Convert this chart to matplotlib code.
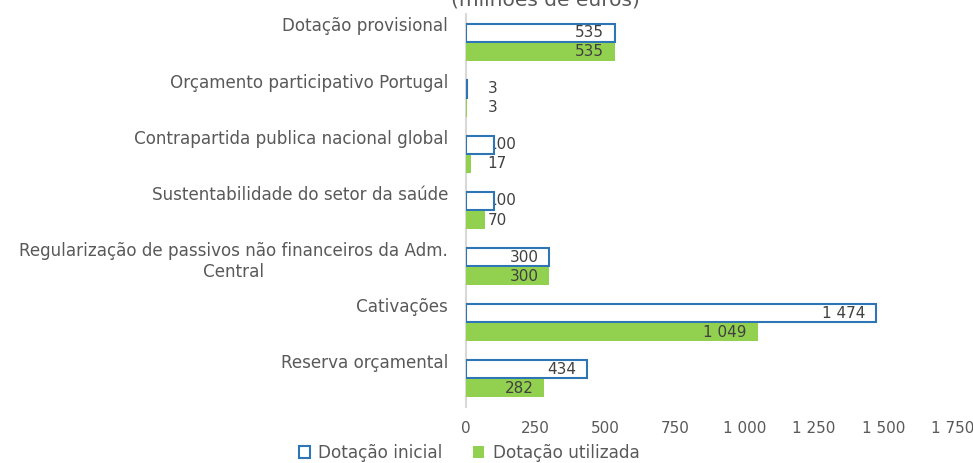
import matplotlib
matplotlib.use("Agg")
import matplotlib.pyplot as plt
import numpy as np
from matplotlib.patches import Patch

categories = ["Dotação provisional", "Orçamento participativo Portugal",
              "Contrapartida publica nacional global", "Sustentabilidade do setor da saúde",
              "Regularização de passivos não financeiros da Adm.\nCentral",
              "Cativações", "Reserva orçamental"]
inicial = [535, 3, 100, 100, 300, 1474, 434]
utilizada = [535, 3, 17, 70, 300, 1049, 282]
xticks = [0, 250, 500, 750, 1000, 1250, 1500, 1750]
xticklabels = ["0", "250", "500", "750", "1 000", "1 250", "1 500", "1 750"]

def fmt(v):
    return f"{v:,}".replace(",", " ")

plt.rcParams['font.family'] = ['DejaVu Sans']
txtc = "#595959"
lblc = "#404040"
blue = "#2E75B6"
green = "#92D050"
fs = 11

W, H = 973, 463
fig = plt.figure(figsize=(W/100, H/100), dpi=100)
x0, x1, yt, yb = 466, 953, 14, 407
ax = fig.add_axes([x0/W, 1-yb/H, (x1-x0)/W, (yb-yt)/H])

n = len(categories)
y = np.arange(n)[::-1]
h = 0.32
ax.barh(y + h/2 + 0.01, inicial, height=h, facecolor="white", edgecolor=blue, linewidth=1.5, zorder=3)
ax.barh(y - h/2 - 0.01, utilizada, height=h, facecolor=green, edgecolor="none", zorder=3)

px = 1750/(x1-x0)
for yi, a, b in zip(y, inicial, utilizada):
    for val, yy in ((a, yi + h/2 + 0.01), (b, yi - h/2 - 0.01)):
        if val / px > 60:
            ax.text(val - 11*px, yy, fmt(val), ha="right", va="center", fontsize=fs, color=lblc, zorder=4)
        else:
            ax.text(78, yy, fmt(val), ha="left", va="center", fontsize=fs, color=lblc, zorder=2)

ax.set_xlim(0, 1750)
ax.set_ylim(-0.5, n - 0.5)
ax.set_xticks(xticks)
ax.set_xticklabels(xticklabels, fontsize=fs, color=txtc)
ax.set_yticks(y + 0.44)
ax.set_yticklabels(categories, fontsize=12.1, color=txtc)
for lab in ax.get_yticklabels():
    lab.set_multialignment("center")
    lab.set_va("top")
ax.tick_params(axis="both", length=0)
ax.tick_params(axis="x", pad=10)
ax.tick_params(axis="y", pad=13)
for s in ["top", "right", "bottom"]:
    ax.spines[s].set_visible(False)
ax.spines["left"].set_color("#D9D9D9")
ax.spines["left"].set_linewidth(1.5)

fig.text(545/W, 1 + 0/H, "(milhões de euros)", ha="center", va="center", fontsize=14.5, color=txtc)

handles = [Patch(facecolor="white", edgecolor=blue, linewidth=1.5, label="Dotação inicial"),
           Patch(facecolor=green, edgecolor="none", label="Dotação utilizada")]
leg = fig.legend(handles=handles, loc="center", bbox_to_anchor=(469/W, 1 - 453/H), ncol=2,
                 frameon=False, fontsize=12.2, handlelength=0.65, handleheight=0.65,
                 columnspacing=1.8, handletextpad=0.5, borderpad=0)
for t in leg.get_texts():
    t.set_color(txtc)

fig.savefig("out.png", dpi=100)
